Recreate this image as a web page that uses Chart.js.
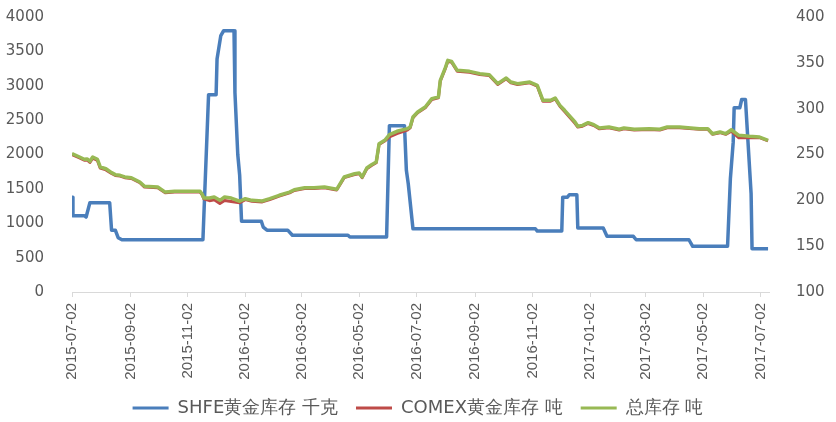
<!DOCTYPE html>
<html>
<head>
<meta charset="utf-8">
<script src="https://cdn.jsdelivr.net/npm/chart.js@4/dist/chart.umd.min.js"></script>
<style>
  body { margin: 0; background: #fff; }
</style>
</head>
<body>
<canvas id="stock_chart" width="836" height="422"></canvas>
<script>
// x axis labels (every two months)
const tickLabels = ['2015-07-02', '2015-09-02', '2015-11-02', '2016-01-02', '2016-03-02', '2016-05-02',
  '2016-07-02', '2016-09-02', '2016-11-02', '2017-01-02', '2017-03-02', '2017-05-02', '2017-07-02'];
const startDate = '2015-07-02';
const endDate = '2017-07-11';

// SHFE gold stock, kg (left axis)
const shfeDates = ['2015-07-02', '2015-07-03', '2015-07-15', '2015-07-17', '2015-07-21', '2015-08-11',
  '2015-08-13', '2015-08-17', '2015-08-20', '2015-08-24', '2015-11-18', '2015-11-24', '2015-12-02',
  '2015-12-03', '2015-12-07', '2015-12-10', '2015-12-21', '2015-12-22', '2015-12-25', '2015-12-27',
  '2015-12-29', '2016-01-19', '2016-01-21', '2016-01-25', '2016-02-16', '2016-02-21', '2016-04-20',
  '2016-04-22', '2016-05-31', '2016-06-03', '2016-06-19', '2016-06-21', '2016-06-23', '2016-06-28',
  '2016-11-05', '2016-11-07', '2016-12-03', '2016-12-04', '2016-12-09', '2016-12-11', '2016-12-19',
  '2016-12-20', '2017-01-16', '2017-01-20', '2017-02-17', '2017-02-20', '2017-04-17', '2017-04-21',
  '2017-05-28', '2017-05-31', '2017-06-03', '2017-06-04', '2017-06-10', '2017-06-12', '2017-06-16',
  '2017-06-22', '2017-06-23', '2017-07-10'];
const shfeValues = [1380, 1110, 1110, 1090, 1300, 1300,
  900, 900, 790, 760, 760, 2870, 2870,
  3390, 3730, 3800, 3800, 2900, 2000, 1700,
  1030, 1030, 945, 900, 900, 825, 825,
  800, 800, 2420, 2420, 1770, 1575, 920,
  920, 887, 887, 1380, 1380, 1415, 1415,
  930, 930, 810, 810, 760, 760, 665,
  665, 1650, 2180, 2680, 2680, 2800, 2800,
  1430, 630, 630];

// COMEX and total stock, tonnes (right axis)
const tonDates = ['2015-07-02', '2015-07-10', '2015-07-15', '2015-07-18', '2015-07-21', '2015-07-24',
  '2015-07-29', '2015-08-01', '2015-08-07', '2015-08-13', '2015-08-17', '2015-08-22', '2015-08-27',
  '2015-09-03', '2015-09-12', '2015-09-17', '2015-10-01', '2015-10-09', '2015-10-19', '2015-11-15',
  '2015-11-17', '2015-11-19', '2015-11-25', '2015-11-30', '2015-12-06', '2015-12-11', '2015-12-18',
  '2015-12-27', '2016-01-02', '2016-01-09', '2016-01-20', '2016-01-28', '2016-02-07', '2016-02-18',
  '2016-02-23', '2016-03-05', '2016-03-15', '2016-03-26', '2016-04-08', '2016-04-16', '2016-04-27',
  '2016-05-02', '2016-05-05', '2016-05-10', '2016-05-15', '2016-05-20', '2016-05-23', '2016-05-29',
  '2016-06-03', '2016-06-11', '2016-06-22', '2016-06-25', '2016-06-28', '2016-07-03', '2016-07-11',
  '2016-07-18', '2016-07-25', '2016-07-27', '2016-08-01', '2016-08-04', '2016-08-08', '2016-08-14',
  '2016-08-27', '2016-09-07', '2016-09-17', '2016-09-26', '2016-10-05', '2016-10-10', '2016-10-17',
  '2016-10-30', '2016-11-07', '2016-11-13', '2016-11-21', '2016-11-26', '2016-12-01', '2016-12-06',
  '2016-12-17', '2016-12-20', '2016-12-25', '2016-12-31', '2017-01-06', '2017-01-12', '2017-01-22',
  '2017-02-02', '2017-02-07', '2017-02-18', '2017-03-06', '2017-03-17', '2017-03-25', '2017-04-07',
  '2017-04-28', '2017-05-07', '2017-05-12', '2017-05-20', '2017-05-26', '2017-06-01', '2017-06-09',
  '2017-06-20', '2017-07-01', '2017-07-10'];
const totalValues = [251, 247.3, 244.8, 245.2, 242.6, 247.3,
  244.8, 236.4, 234.5, 230.2, 228, 227.3, 225.5,
  224.7, 220, 215.3, 214.5, 209, 209.8, 209.8,
  207.2, 202.5, 202.5, 203.6, 200, 203.6, 202.5,
  199, 201.8, 200, 199.3, 201.8, 205.5, 209,
  211.6, 213.8, 213.8, 214.5, 212, 225.5, 229,
  229.8, 225.5, 235.3, 238.9, 241.8, 261.8, 265.5,
  271.6, 275.3, 278.2, 280, 290.9, 296.4, 301.8,
  310.9, 312.7, 330.9, 343.6, 352.7, 351.6, 341.8,
  340.7, 338.2, 337.1, 327.3, 333.5, 329.1, 327.3,
  329.1, 325.5, 309.1, 309.1, 311.6, 303.6, 298.2,
  285.5, 280.8, 281.8, 284.7, 282.5, 278.9, 280,
  277.5, 278.9, 277.5, 278.2, 277.5, 280, 280,
  278.2, 278.2, 272.7, 274.5, 272.7, 277, 270.9,
  269.8, 269, 265.5];
const comexValues = [249.8, 246.2, 243.7, 244.1, 241.3, 246,
  243.5, 235.1, 233.2, 229.3, 227.1, 226.5, 224.7,
  223.9, 219.2, 214.5, 213.7, 208.2, 209, 209,
  206.4, 201.7, 199.6, 200.7, 196.5, 199.8, 198.7,
  197.3, 200.8, 199, 198.3, 200.9, 204.6, 208.1,
  210.8, 213, 213, 213.7, 211.2, 224.7, 228.2,
  229, 224.7, 234.5, 238.1, 241, 261, 264.7,
  269.2, 272.9, 276.6, 279, 290, 295.5, 300.9,
  310, 311.8, 330, 342.7, 351.8, 350.7, 340.9,
  339.8, 337.3, 336.2, 326.4, 332.6, 328.2, 326.4,
  328.2, 324.6, 308.2, 308.2, 310.7, 302.7, 296.8,
  284.1, 279.9, 280.9, 283.8, 281.6, 278, 279.2,
  276.7, 278.1, 276.7, 277.4, 276.7, 279.2, 279.2,
  277.5, 277.5, 272, 273.8, 272, 275.4, 268.2,
  268.2, 268.4, 264.9];

const DAY = 86400000;
function dayOf(s) {
  return Math.round((Date.parse(s) - Date.parse(startDate)) / DAY);
}
function points(dates, values) {
  return dates.map((d, i) => ({ x: dayOf(d), y: values[i] }));
}

const textColor = '#595959';
const axisColor = '#d9d9d9';

// fixed axis widths; keep only half a label of padding above/below
function fixWidth(w) {
  return (scale) => {
    scale.width = w;
    scale.paddingTop = 9;
    scale.paddingBottom = 9;
  };
}

const ctx = document.getElementById('stock_chart').getContext('2d');

new Chart(ctx, {
  type: 'line',
  data: {
    datasets: [{
      label: 'SHFE黄金库存 千克',
      data: points(shfeDates, shfeValues),
      yAxisID: 'y',
      borderColor: '#4a7ebb',
      backgroundColor: '#4a7ebb',
      borderWidth: 3.5,
      order: 3
    }, {
      label: 'COMEX黄金库存 吨',
      data: points(tonDates, comexValues),
      yAxisID: 'y1',
      borderColor: '#be4b48',
      backgroundColor: '#be4b48',
      borderWidth: 3,
      order: 2
    }, {
      label: '总库存 吨',
      data: points(tonDates, totalValues),
      yAxisID: 'y1',
      borderColor: '#98b954',
      backgroundColor: '#98b954',
      borderWidth: 3.5,
      order: 1
    }]
  },
  options: {
    responsive: false,
    animation: false,
    devicePixelRatio: 1,
    layout: {
      padding: { top: 17, bottom: -5, left: 0, right: 0 }
    },
    elements: {
      point: { radius: 0 },
      line: { tension: 0, borderJoinStyle: 'round' }
    },
    plugins: {
      tooltip: { enabled: false },
      legend: {
        display: true,
        position: 'bottom',
        labels: {
          color: textColor,
          font: { family: 'DejaVu Sans', size: 18 },
          boxWidth: 36,
          boxHeight: 3,
          padding: 18,
          sort: (a, b) => a.datasetIndex - b.datasetIndex,
          generateLabels: (chart) =>
            Chart.defaults.plugins.legend.labels.generateLabels(chart).map(l => ({ ...l, lineWidth: 0 }))
        }
      }
    },
    scales: {
      x: {
        type: 'linear',
        min: 0,
        max: dayOf(endDate),
        afterBuildTicks: (scale) => {
          scale.ticks = tickLabels.map(t => ({ value: dayOf(t) }));
        },
        afterFit: (scale) => { scale.height = 89; },
        grid: {
          display: true,
          drawOnChartArea: false,
          drawTicks: true,
          tickLength: 5,
          color: axisColor
        },
        border: { color: axisColor, width: 1 },
        ticks: {
          autoSkip: false,
          minRotation: 90,
          maxRotation: 90,
          padding: 6,
          color: textColor,
          font: { family: 'Liberation Sans', size: 15 },
          callback: (v, i) => tickLabels[i]
        }
      },
      y: {
        position: 'left',
        min: 0,
        max: 4000,
        afterFit: fixWidth(72),
        grid: { display: false },
        border: { display: false },
        ticks: {
          stepSize: 500,
          padding: 20,
          color: textColor,
          font: { family: 'DejaVu Sans', size: 15 },
          callback: (v) => String(v)
        }
      },
      y1: {
        position: 'right',
        min: 100,
        max: 400,
        afterFit: fixWidth(67),
        grid: { display: false },
        border: { display: false },
        ticks: {
          stepSize: 50,
          padding: 19,
          color: textColor,
          font: { family: 'DejaVu Sans', size: 15 },
          callback: (v) => String(v)
        }
      }
    }
  }
});
</script>
</body>
</html>
